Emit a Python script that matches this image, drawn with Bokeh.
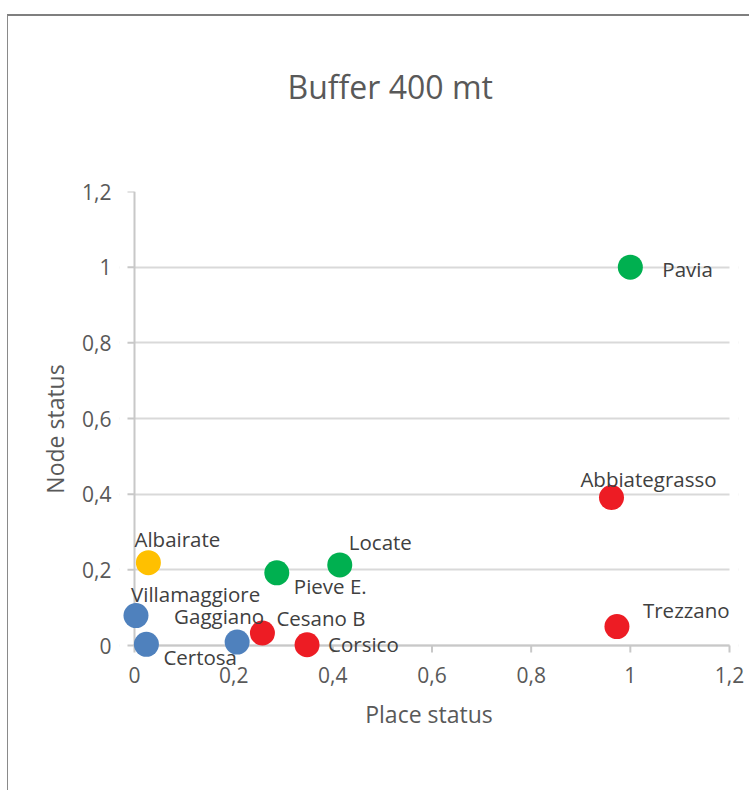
from bokeh.plotting import figure
from bokeh.models import Range1d, FixedTicker, CustomJSTickFormatter, ColumnDataSource, BoxAnnotation, Title
from bokeh.core.properties import value
from bokeh.embed import file_html
from bokeh.resources import INLINE

# ---- data ----
names = ["Pavia", "Abbiategrasso", "Trezzano", "Locate", "Pieve E.", "Cesano B",
         "Corsico", "Albairate", "Villamaggiore", "Certosa", "Gaggiano"]
place_status = [1.0, 0.962, 0.973, 0.414, 0.287, 0.258, 0.348, 0.028, 0.003, 0.024, 0.207]
node_status = [1.0, 0.391, 0.050, 0.213, 0.192, 0.033, 0.002, 0.219, 0.079, 0.003, 0.009]
groups = ["green", "red", "red", "green", "green", "red", "red", "yellow", "blue", "blue", "blue"]
ticks = [0, 0.2, 0.4, 0.6, 0.8, 1, 1.2]
axis_min, axis_max = 0, 1.2
title_text = "Buffer 400 mt"

# ---- styles / layout ----
palette = {"green": "#00B050", "red": "#ED1C24", "yellow": "#FFC000", "blue": "#4F81BD"}
colors = [palette[g] for g in groups]
label_align = ["left", "center", "left", "left", "left", "left", "left", "center", "left", "left", "right"]
label_dx = [32, 37, 26, 9, 17, 14, 21, 29, -5, 17, 27]
label_dy = [2, -19, -17, -23, 13, -15, -1, -24, -22, 13, -26]
AXIS_COLOR = "#c8c8c8"
FONT = "Open Sans"

# pixel geometry of the frame (frame slightly larger than the 0..1.2 square so that
# markers sitting on the axes are not clipped)
PX_X = 595 / (axis_max - axis_min)      # pixels per unit, x
PX_Y = 454 / (axis_max - axis_min)      # pixels per unit, y
PAD_L, PAD_R, PAD_B = 15, 9, 21         # pixels
TICK = 7                                # tick length, pixels

src = ColumnDataSource(dict(x=place_status, y=node_status, name=names, color=colors,
                            align=label_align, dx=label_dx, dy=label_dy))

p = figure(width=742, height=776, output_backend="svg", toolbar_location=None,
           x_range=Range1d(axis_min - PAD_L / PX_X, axis_max + PAD_R / PX_X),
           y_range=Range1d(axis_min - PAD_B / PX_Y, axis_max),
           min_border_left=111, min_border_right=12, min_border_top=175, min_border_bottom=126)
p.styles = {"margin-top": "14px", "margin-left": "7px",
            "border-top": "2px solid #7f7f7f", "border-left": "1px solid #8a8a8a"}
p.outline_line_color = None
p.background_fill_color = "white"
p.border_fill_color = "white"

# title: an empty spacer panel next to the frame, the real title above it
p.title = None
p.add_layout(Title(text=" ", text_font=FONT, text_font_size="32px", standoff=35), "above")
p.add_layout(Title(text=title_text, align="left", offset=168, standoff=8,
                   text_font=FONT, text_font_size="32px", text_font_style="normal",
                   text_color="#595959"), "above")

p.xgrid.visible = False
p.ygrid.grid_line_color = "#d9d9d9"
p.ygrid.grid_line_width = 2
p.ygrid.ticker = FixedTicker(ticks=ticks)
# keep the grid inside the 0..1.2 x-extent
p.add_layout(BoxAnnotation(right=axis_min, fill_color="white", fill_alpha=1, line_alpha=0, level="underlay"))
p.add_layout(BoxAnnotation(left=axis_max, fill_color="white", fill_alpha=1, line_alpha=0, level="underlay"))

fmt = CustomJSTickFormatter(code="var s = (Math.round(tick*10)/10).toString(); return s.replace('.', ',');")
for ax in (p.xaxis[0], p.yaxis[0]):
    ax.ticker = FixedTicker(ticks=ticks)
    ax.formatter = fmt
    ax.axis_line_color = None
    ax.major_tick_line_color = None
    ax.major_tick_out = 0
    ax.major_tick_in = 0
    ax.minor_tick_line_color = None
    ax.major_label_text_font = FONT
    ax.major_label_text_font_size = "21px"
    ax.major_label_text_color = "#595959"
    ax.axis_label_text_font = FONT
    ax.axis_label_text_font_size = "23px"
    ax.axis_label_text_font_style = "normal"
    ax.axis_label_text_color = "#595959"

p.xaxis.axis_label = "Place status"
p.yaxis.axis_label = "Node status"
p.xaxis.major_label_standoff = 0
p.xaxis.axis_label_standoff = 12
p.yaxis.major_label_standoff = 8
p.yaxis.axis_label_standoff = 8
p.yaxis.major_label_orientation = "horizontal"

# axis lines and tick marks at the data origin
tx = TICK / PX_X
ty = TICK / PX_Y
p.segment(x0=[axis_min, axis_min], y0=[axis_min, axis_min], x1=[axis_min, axis_max], y1=[axis_max, axis_min],
          line_color=AXIS_COLOR, line_width=2)
p.segment(x0=[axis_min - tx] * len(ticks), y0=ticks, x1=[axis_min] * len(ticks), y1=ticks,
          line_color=AXIS_COLOR, line_width=2)
p.segment(x0=ticks, y0=[axis_min] * len(ticks), x1=ticks, y1=[axis_min - ty] * len(ticks),
          line_color=AXIS_COLOR, line_width=2)

p.scatter("x", "y", source=src, size=25, fill_color="color", line_color="color", line_width=0)

p.text("x", "y", text="name", source=src, x_offset="dx", y_offset="dy",
       text_align="align", text_baseline="middle",
       text_font=value(FONT), text_font_size="20.5px", text_color="#404040")

open("out.html", "w").write(file_html(p, INLINE))
